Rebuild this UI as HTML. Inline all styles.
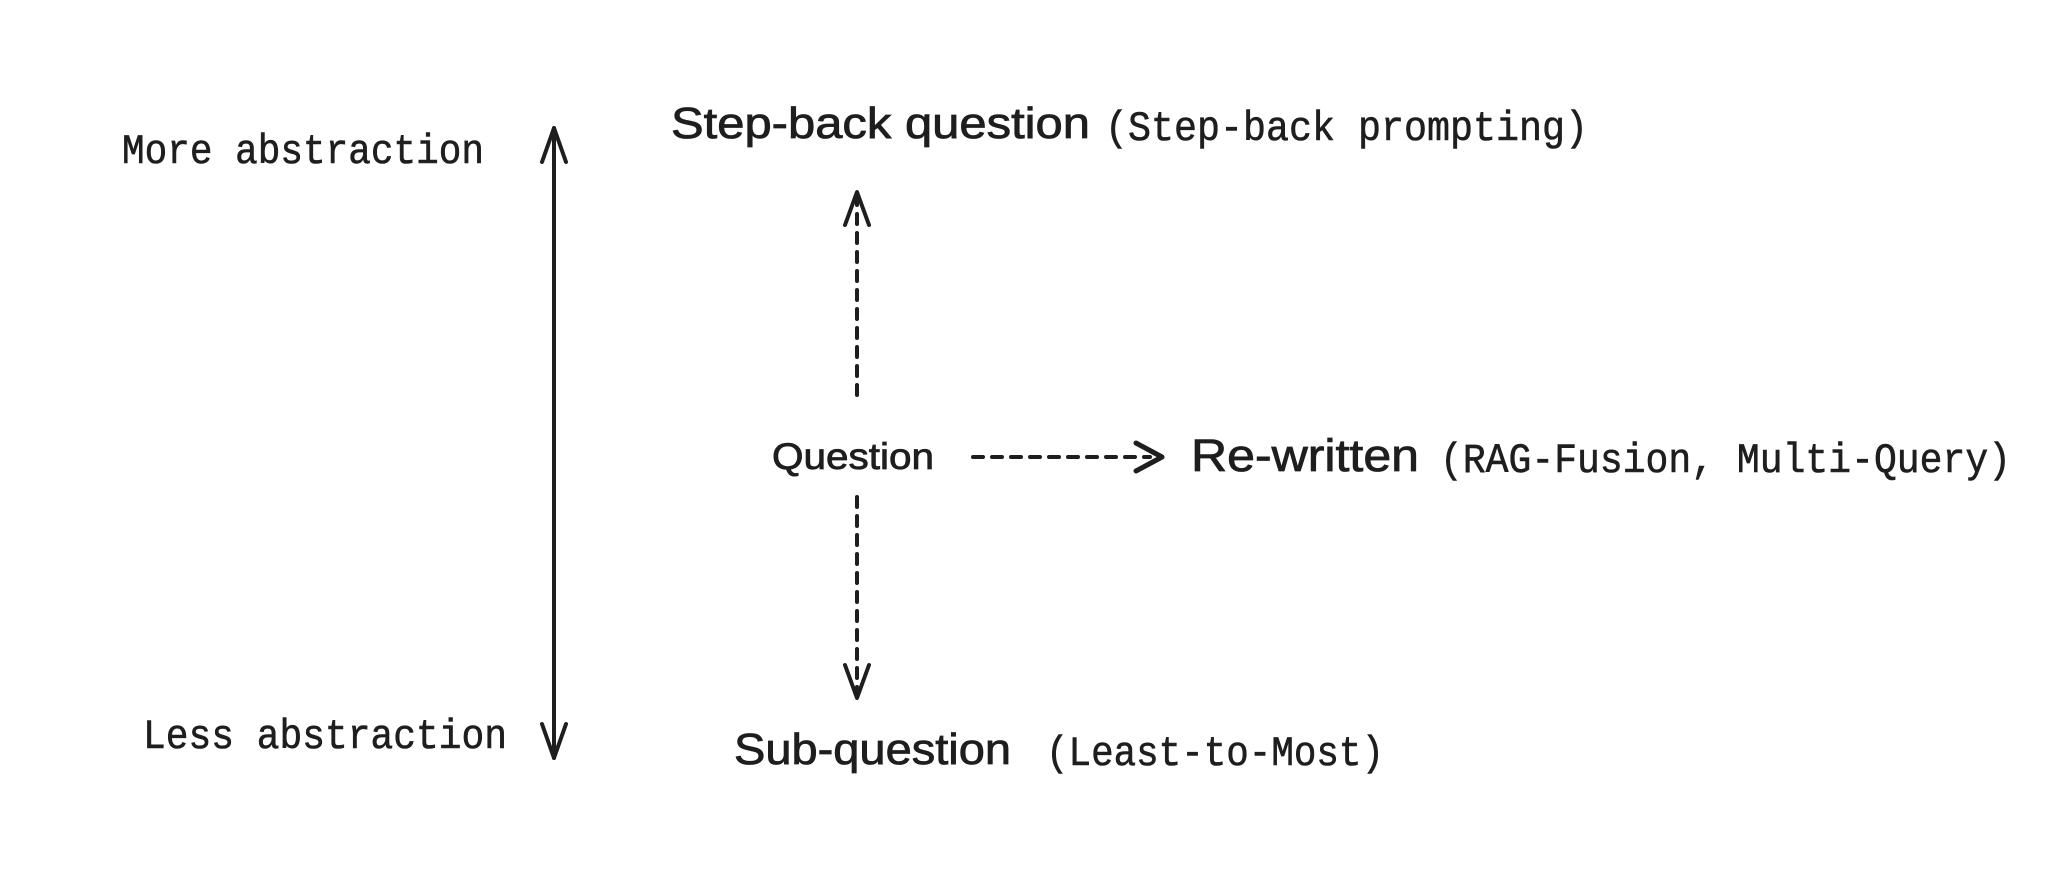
<!DOCTYPE html>
<html><head><style>html,body{margin:0;padding:0;background:#fff}</style></head>
<body>
<svg width="2064" height="884" viewBox="0 0 2064 884" xmlns="http://www.w3.org/2000/svg">
<g fill="#1e1e1e" font-family="Liberation Mono, monospace" font-size="42" stroke="#1e1e1e" stroke-width="0.6">
<text x="122" y="163" textLength="362" lengthAdjust="spacingAndGlyphs">More abstraction</text>
<text x="143" y="748" textLength="364" lengthAdjust="spacingAndGlyphs">Less abstraction</text>
<text x="1105" y="140" textLength="483" lengthAdjust="spacingAndGlyphs">(Step-back prompting)</text>
<text x="1440" y="472" textLength="571" lengthAdjust="spacingAndGlyphs">(RAG-Fusion, Multi-Query)</text>
<text x="1046" y="765" textLength="338" lengthAdjust="spacingAndGlyphs">(Least-to-Most)</text>
</g>
<g fill="#1e1e1e" font-family="Liberation Sans Narrow, Liberation Sans, sans-serif" stroke="#1e1e1e" stroke-width="0.8">
<text x="671" y="138" font-size="44" textLength="419" lengthAdjust="spacingAndGlyphs">Step-back question</text>
<text x="772" y="469" font-size="37" textLength="162" lengthAdjust="spacingAndGlyphs">Question</text>
<text x="1191" y="471" font-size="45" textLength="228" lengthAdjust="spacingAndGlyphs">Re-written</text>
<text x="734" y="764" font-size="44" textLength="277" lengthAdjust="spacingAndGlyphs">Sub-question</text>
</g>
<g stroke="#1e1e1e" stroke-width="4" fill="none" stroke-linecap="round" stroke-linejoin="round">
<line x1="554" y1="128" x2="554" y2="758"/>
<polyline points="542,162 554,128 566,162"/>
<polyline points="542,724 554,758 566,724"/>
<line x1="857" y1="195" x2="857" y2="395" stroke-dasharray="10,9"/>
<polyline points="845,225 857,192 869,225"/>
<line x1="857" y1="497" x2="857" y2="695" stroke-dasharray="10,9"/>
<polyline points="845,665 857,698 869,665"/>
<line x1="973" y1="457" x2="1150" y2="457" stroke-dasharray="10,9"/>
<polyline points="1136,443 1162,457 1136,471" stroke-width="5"/>
</g>
</svg>
</body></html>
